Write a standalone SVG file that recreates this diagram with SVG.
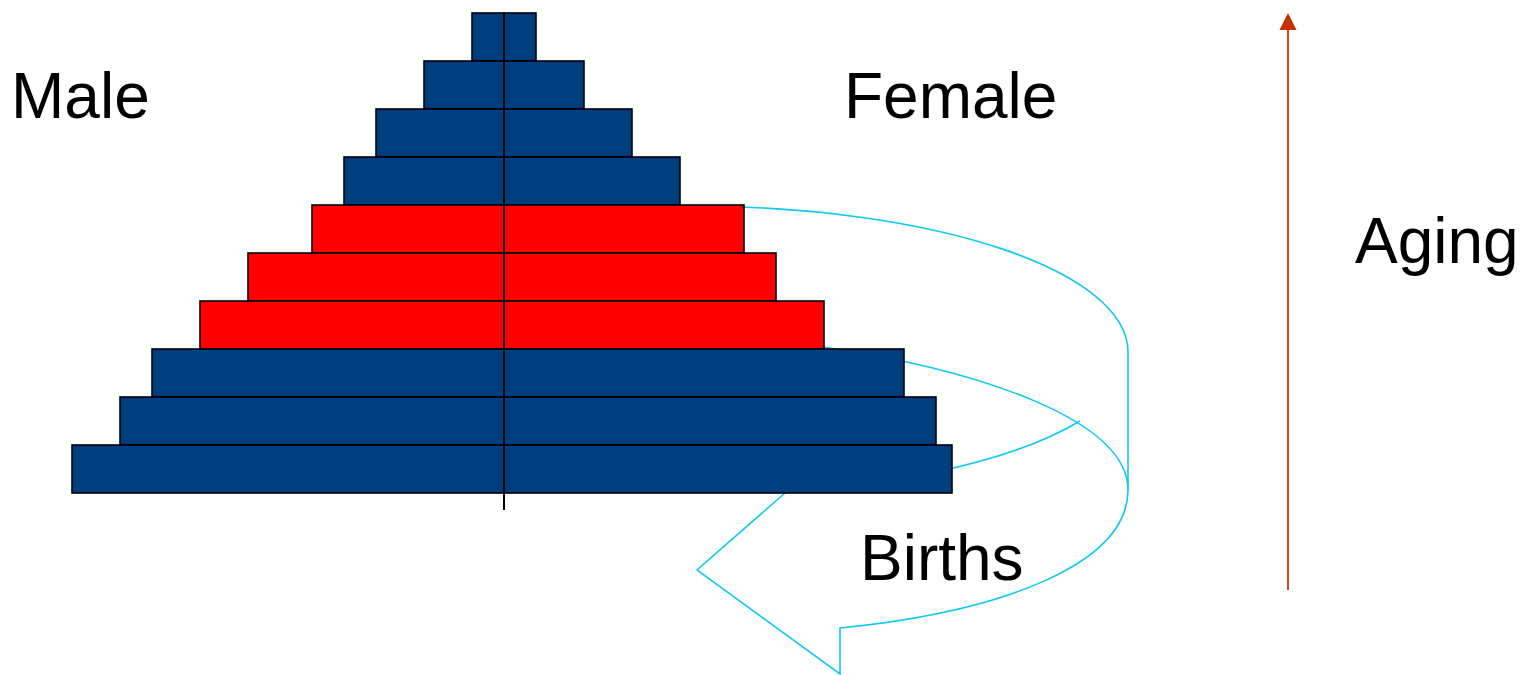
<svg xmlns="http://www.w3.org/2000/svg" width="1531" height="675" viewBox="0 0 1531 675">
<style>
.b{fill:#003F7F;stroke:#000;stroke-width:1.6}
.r{fill:#FF0000;stroke:#000;stroke-width:1.6}
.c{fill:none;stroke:#10C8F4;stroke-width:1.6;stroke-linejoin:miter}
.t{font-family:"Liberation Sans",Arial,sans-serif;font-size:64px;fill:#000}
</style>
<g id="connectors">
<g id="births-arrow">
<path class="c" d="M690,206 C936,206 1128,271 1128,352 L1128,490 C1128,565 1000,612 840,628 L840,674 L697,570 L785,493"/>
<path class="c" d="M823,347 C980,370 1128,420 1128,490"/>
<path class="c" d="M1080,421 C1040,445 960,478 785,493"/>
</g>
<g id="aging-arrow">
<line x1="1288" y1="590" x2="1288" y2="30" stroke="#D9441A" stroke-width="2"/>
<path d="M1288,13 L1296.5,30 L1279.5,30 Z" fill="#C83200"/>
</g>
</g>
<g id="pyramid">
<rect class="b" x="472" y="13" width="32" height="48"/><rect class="b" x="504" y="13" width="32" height="48"/>
<rect class="b" x="424" y="61" width="80" height="48"/><rect class="b" x="504" y="61" width="80" height="48"/>
<rect class="b" x="376" y="109" width="128" height="48"/><rect class="b" x="504" y="109" width="128" height="48"/>
<rect class="b" x="344" y="157" width="160" height="48"/><rect class="b" x="504" y="157" width="176" height="48"/>
<rect class="r" x="312" y="205" width="192" height="48"/><rect class="r" x="504" y="205" width="240" height="48"/>
<rect class="r" x="248" y="253" width="256" height="48"/><rect class="r" x="504" y="253" width="272" height="48"/>
<rect class="r" x="200" y="301" width="304" height="48"/><rect class="r" x="504" y="301" width="320" height="48"/>
<rect class="b" x="152" y="349" width="352" height="48"/><rect class="b" x="504" y="349" width="400" height="48"/>
<rect class="b" x="120" y="397" width="384" height="48"/><rect class="b" x="504" y="397" width="432" height="48"/>
<rect class="b" x="72" y="445" width="432" height="48"/><rect class="b" x="504" y="445" width="448" height="48"/>
<line x1="504" y1="13" x2="504" y2="510" stroke="#000" stroke-width="2"/>
</g>
<g id="label-male"><text class="t" x="11" y="118">Male</text></g>
<g id="label-female"><text class="t" x="844" y="118">Female</text></g>
<g id="label-aging"><text class="t" x="1355" y="263">Aging</text></g>
<g id="label-births"><text class="t" x="860" y="580">Births</text></g>
</svg>
